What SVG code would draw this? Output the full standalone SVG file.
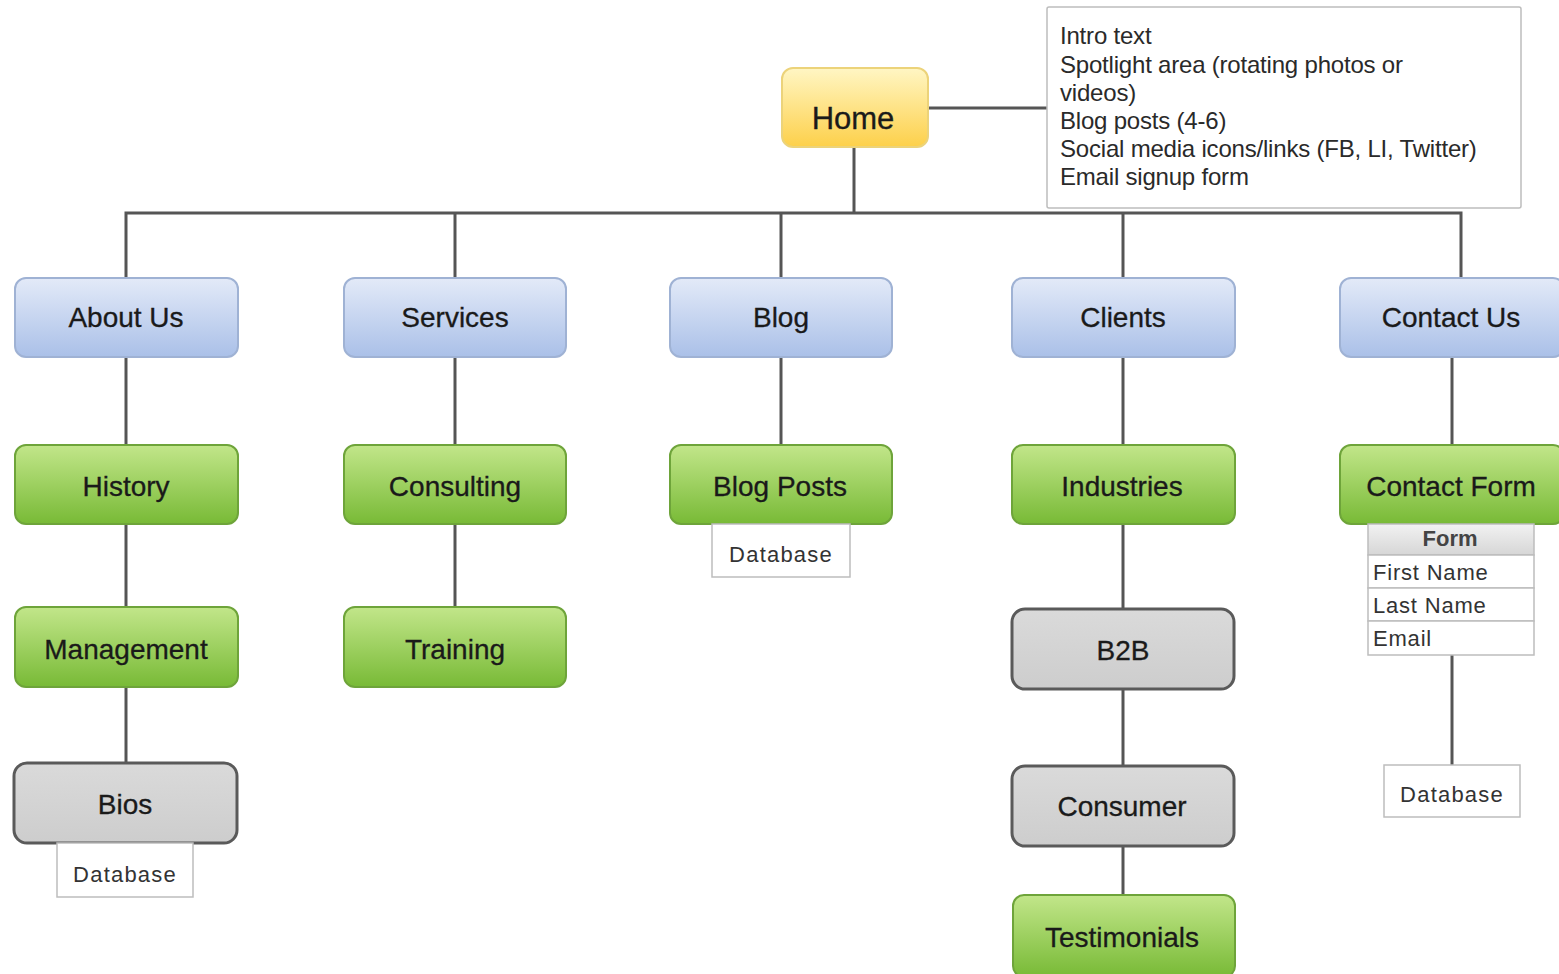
<svg xmlns="http://www.w3.org/2000/svg" width="1559" height="974" viewBox="0 0 1559 974">
<defs>
<linearGradient id="gBlue" x1="0" y1="0" x2="0" y2="1"><stop offset="0" stop-color="#e3eaf8"/><stop offset="1" stop-color="#aac0e8"/></linearGradient>
<linearGradient id="gGreen" x1="0" y1="0" x2="0" y2="1"><stop offset="0" stop-color="#c2e68a"/><stop offset="1" stop-color="#78ba36"/></linearGradient>
<linearGradient id="gYellow" x1="0" y1="0" x2="0" y2="1"><stop offset="0" stop-color="#fff6c4"/><stop offset="1" stop-color="#fdd04a"/></linearGradient>
<linearGradient id="gGray" x1="0" y1="0" x2="0" y2="1"><stop offset="0" stop-color="#dadada"/><stop offset="1" stop-color="#cdcdcd"/></linearGradient>
<linearGradient id="gHead" x1="0" y1="0" x2="0" y2="1"><stop offset="0" stop-color="#f2f2f2"/><stop offset="1" stop-color="#d6d6d6"/></linearGradient>
</defs>
<style>
.blue{fill:url(#gBlue);stroke:#9fb2d4;stroke-width:2}
.green{fill:url(#gGreen);stroke:#6ea43a;stroke-width:2}
.gray{fill:url(#gGray);stroke:#5a5a5a;stroke-width:3}
.yellow{fill:url(#gYellow);stroke:#ecd37a;stroke-width:2}
.box{fill:#fff;stroke:#bdbdbd;stroke-width:1.5}
.lbl{font-family:"Liberation Sans",Arial,sans-serif;font-size:28px;fill:#1a1a1a;text-anchor:middle;stroke:#1a1a1a;stroke-width:0.3}
.db{font-family:"Liberation Sans",Arial,sans-serif;font-size:22px;fill:#333;text-anchor:middle;letter-spacing:1.2px}
.note{font-family:"Liberation Sans",Arial,sans-serif;font-size:24px;fill:#2a2a2a;letter-spacing:-0.2px}
.ft{font-family:"Liberation Sans",Arial,sans-serif;font-size:22px;fill:#333;letter-spacing:0.8px}
.ln{stroke:#555;stroke-width:3;fill:none}
</style>
<g id="connectors">
<line class="ln" x1="928" y1="108" x2="1047" y2="108"/>
<line class="ln" x1="854" y1="147" x2="854" y2="213"/>
<polyline class="ln" points="126,278 126,213 1461,213 1461,278"/>
<line class="ln" x1="455" y1="213" x2="455" y2="278"/>
<line class="ln" x1="781" y1="213" x2="781" y2="278"/>
<line class="ln" x1="1123" y1="213" x2="1123" y2="278"/>
<line class="ln" x1="126" y1="357" x2="126" y2="445"/>
<line class="ln" x1="126" y1="524" x2="126" y2="607"/>
<line class="ln" x1="126" y1="687" x2="126" y2="763"/>
<line class="ln" x1="455" y1="357" x2="455" y2="445"/>
<line class="ln" x1="455" y1="524" x2="455" y2="607"/>
<line class="ln" x1="781" y1="357" x2="781" y2="445"/>
<line class="ln" x1="1123" y1="357" x2="1123" y2="445"/>
<line class="ln" x1="1123" y1="524" x2="1123" y2="609"/>
<line class="ln" x1="1123" y1="689" x2="1123" y2="766"/>
<line class="ln" x1="1123" y1="846" x2="1123" y2="895"/>
<line class="ln" x1="1452" y1="357" x2="1452" y2="445"/>
<line class="ln" x1="1452" y1="655" x2="1452" y2="765"/>
</g>
<g id="home"><rect class="yellow" x="782" y="68" width="146" height="79" rx="11"/><text class="lbl" x="853" y="129" style="font-size:31px">Home</text></g>
<g id="home-note"><rect class="box" x="1047" y="7" width="474" height="201" rx="2"/>
<text class="note" x="1060" y="44">Intro text</text>
<text class="note" x="1060" y="73">Spotlight area (rotating photos or</text>
<text class="note" x="1060" y="101">videos)</text>
<text class="note" x="1060" y="129">Blog posts (4-6)</text>
<text class="note" x="1060" y="157">Social media icons/links (FB, LI, Twitter)</text>
<text class="note" x="1060" y="185">Email signup form</text></g>
<g id="about"><rect class="blue" x="15" y="278" width="223" height="79" rx="11"/><text class="lbl" x="126" y="327">About Us</text></g>
<g id="services"><rect class="blue" x="344" y="278" width="222" height="79" rx="11"/><text class="lbl" x="455" y="327">Services</text></g>
<g id="blog"><rect class="blue" x="670" y="278" width="222" height="79" rx="11"/><text class="lbl" x="781" y="327">Blog</text></g>
<g id="clients"><rect class="blue" x="1012" y="278" width="223" height="79" rx="11"/><text class="lbl" x="1123" y="327">Clients</text></g>
<g id="contact"><rect class="blue" x="1340" y="278" width="224" height="79" rx="11"/><text class="lbl" x="1451" y="327">Contact Us</text></g>
<g id="history"><rect class="green" x="15" y="445" width="223" height="79" rx="11"/><text class="lbl" x="126" y="496">History</text></g>
<g id="consulting"><rect class="green" x="344" y="445" width="222" height="79" rx="11"/><text class="lbl" x="455" y="496">Consulting</text></g>
<g id="blogposts"><rect class="green" x="670" y="445" width="222" height="79" rx="11"/><text class="lbl" x="780" y="496">Blog Posts</text></g>
<g id="industries"><rect class="green" x="1012" y="445" width="223" height="79" rx="11"/><text class="lbl" x="1122" y="496">Industries</text></g>
<g id="contactform"><rect class="green" x="1340" y="445" width="224" height="79" rx="11"/><text class="lbl" x="1451" y="496">Contact Form</text></g>
<g id="management"><rect class="green" x="15" y="607" width="223" height="80" rx="11"/><text class="lbl" x="126" y="659">Management</text></g>
<g id="training"><rect class="green" x="344" y="607" width="222" height="80" rx="11"/><text class="lbl" x="455" y="659">Training</text></g>
<g id="b2b"><rect class="gray" x="1012" y="609" width="222" height="80" rx="13"/><text class="lbl" x="1123" y="660">B2B</text></g>
<g id="bios"><rect class="gray" x="14" y="763" width="223" height="80" rx="13"/><text class="lbl" x="125" y="814">Bios</text></g>
<g id="consumer"><rect class="gray" x="1012" y="766" width="222" height="80" rx="13"/><text class="lbl" x="1122" y="816">Consumer</text></g>
<g id="testimonials"><rect class="green" x="1013" y="895" width="222" height="82" rx="11"/><text class="lbl" x="1122" y="947">Testimonials</text></g>
<g id="db-blog"><rect class="box" x="712" y="524" width="138" height="53"/><text class="db" x="781" y="562">Database</text></g>
<g id="db-bios"><rect class="box" x="57" y="843" width="136" height="54"/><text class="db" x="125" y="882">Database</text></g>
<g id="db-contact"><rect class="box" x="1384" y="765" width="136" height="52"/><text class="db" x="1452" y="802">Database</text></g>
<g id="form">
<rect x="1368" y="524" width="166" height="31" fill="url(#gHead)" stroke="#bdbdbd" stroke-width="1.5"/>
<text class="ft" x="1450" y="546" text-anchor="middle" style="font-weight:bold;fill:#444;letter-spacing:0">Form</text>
<rect class="box" x="1368" y="555" width="166" height="33"/>
<text class="ft" x="1373" y="580">First Name</text>
<rect class="box" x="1368" y="588" width="166" height="33"/>
<text class="ft" x="1373" y="613">Last Name</text>
<rect class="box" x="1368" y="621" width="166" height="34"/>
<text class="ft" x="1373" y="646">Email</text>
</g>
</svg>
